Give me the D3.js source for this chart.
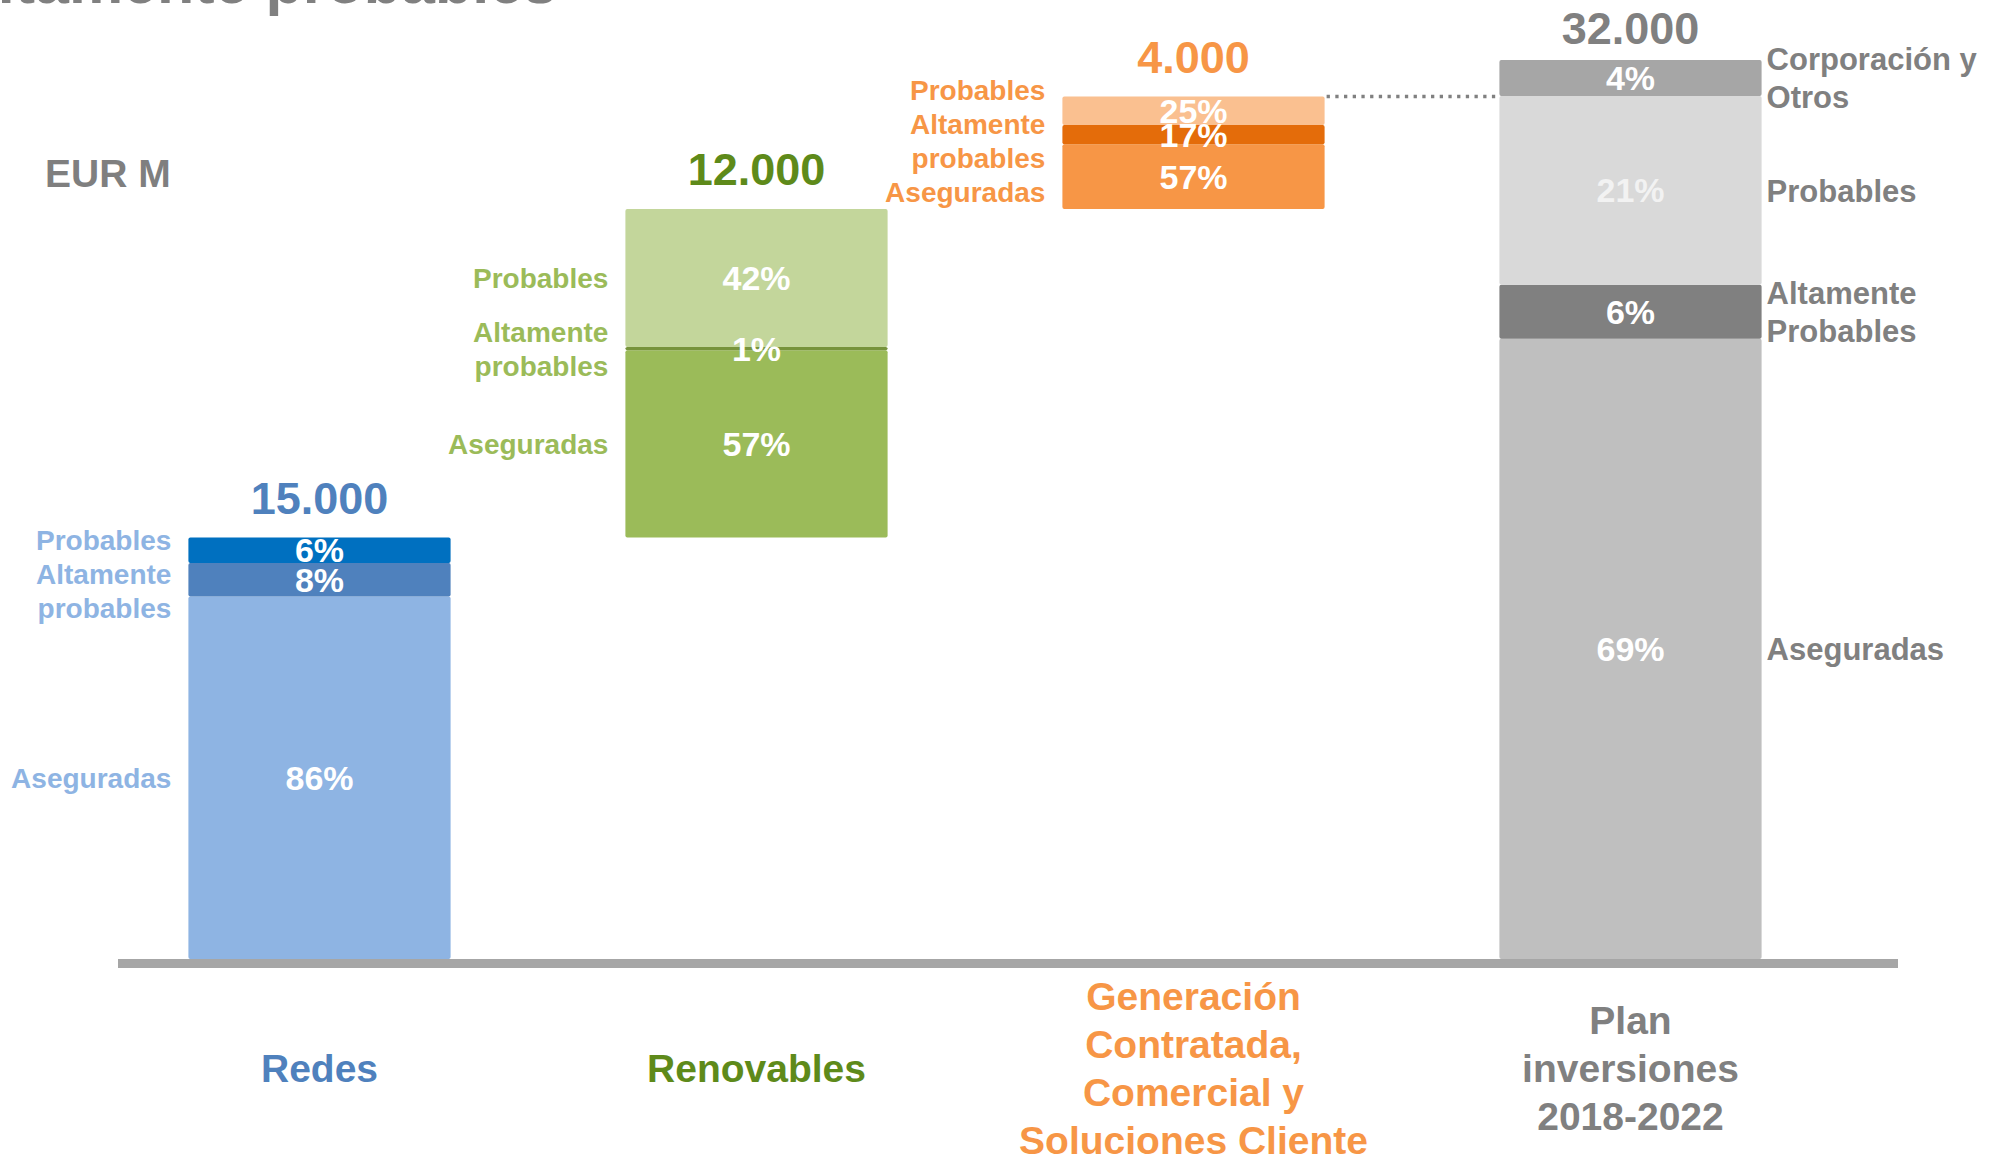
<!DOCTYPE html>
<html lang="es">
<head>
<meta charset="utf-8">
<title>Plan inversiones 2018-2022</title>
<script src="https://cdn.jsdelivr.net/npm/d3@7"></script>
<style>
  body { margin: 0; background: #fff; }
  svg text { font-family: "Liberation Sans", Arial, sans-serif; font-weight: bold; }
</style>
</head>
<body>
<script>
// categories (bottom labels, one entry per line)
var categories = ["Redes", "Renovables", "Generacion", "Plan"];
var categoryLines = [
  ["Redes"],
  ["Renovables"],
  ["Generación", "Contratada,", "Comercial y", "Soluciones Cliente"],
  ["Plan", "inversiones", "2018-2022"]
];
var categoryColors = ["#4F81BD", "#5E8A1A", "#F79646", "#808080"];
var labelColors = ["#8EB4E3", "#9BBB59", "#F79646", "#808080"];

// EUR M (waterfall steps)
var steps = [15000, 11700, 4000];
var corporacion = 1300;
var totalLabels = ["15.000", "12.000", "4.000", "32.000"];

// segments, bottom to top, in %
var segNames = [
  ["Aseguradas", "Altamente\nprobables", "Probables"],
  ["Aseguradas", "Altamente\nprobables", "Probables"],
  ["Aseguradas", "Altamente\nprobables", "Probables"],
  ["Aseguradas", "Altamente\nProbables", "Probables", "Corporación y\nOtros"]
];
var segPct = [
  [86, 8, 6],
  [57, 1, 42],
  [57, 17, 25],
  [69, 6, 21, 4]
];
var segColors = [
  ["#8EB4E3", "#4F81BD", "#0070C0"],
  ["#9BBB59", "#77933C", "#C3D69B"],
  ["#F79646", "#E46C0A", "#FAC090"],
  ["#BFBFBF", "#808080", "#D9D9D9", "#A6A6A6"]
];

var w = 2004, h = 1161;
var total = d3.sum(steps) + corporacion;

var svg = d3.select("body").append("svg")
  .attr("width", w)
  .attr("height", h);

var x = d3.scaleBand()
  .domain(categories)
  .range([101, 1849])
  .paddingInner(0.4)
  .paddingOuter(0.2);

var y = d3.scaleLinear()
  .domain([0, total])
  .range([959, 60]);

var bw = x.bandwidth();

// build segments
var segments = [];
var tops = [];
var base = 0;
categories.forEach(function(cat, i) {
  var value = i < 3 ? steps[i] : total;
  var start = i < 3 ? base : 0;
  var sum = d3.sum(segPct[i]);
  var y0 = start;
  segPct[i].forEach(function(p, j) {
    var v = value * p / sum;
    segments.push({cat: cat, i: i, j: j, y0: y0, y1: y0 + v, pct: p,
                   name: segNames[i][j], color: segColors[i][j]});
    y0 += v;
  });
  tops.push(start + value);
  if (i < 3) base += value;
});

// title (cut by top edge)
svg.append("text")
  .attr("x", 557).attr("y", 3)
  .attr("text-anchor", "end")
  .attr("font-size", 61)
  .attr("fill", "#808080")
  .text("altamente probables");

svg.append("text")
  .attr("x", 45).attr("y", 187)
  .attr("font-size", 39)
  .attr("fill", "#7F7F7F")
  .text("EUR M");

// bars
svg.selectAll("rect.seg")
  .data(segments)
  .enter()
  .append("rect")
  .attr("class", "seg")
  .attr("x", function(d) { return x(d.cat); })
  .attr("y", function(d) { return y(d.y1); })
  .attr("width", bw)
  .attr("height", function(d) { return y(d.y0) - y(d.y1); })
  .attr("rx", 2)
  .attr("fill", function(d) { return d.color; });

// dotted connector
svg.append("line")
  .attr("x1", x(categories[2]) + bw + 2)
  .attr("x2", x(categories[3]) - 2)
  .attr("y1", y(d3.sum(steps)))
  .attr("y2", y(d3.sum(steps)))
  .attr("stroke", "#808080")
  .attr("stroke-width", 3.3)
  .attr("stroke-dasharray", "3.3,5.4");

// axis bar
svg.append("line")
  .attr("x1", 118).attr("x2", 1898)
  .attr("y1", 963.5).attr("y2", 963.5)
  .attr("stroke", "#A6A6A6")
  .attr("stroke-width", 9);

// percent labels
svg.selectAll("text.pct")
  .data(segments)
  .enter()
  .append("text")
  .attr("class", "pct")
  .attr("x", function(d) { return x(d.cat) + bw / 2; })
  .attr("y", function(d) { return (y(d.y0) + y(d.y1)) / 2 + 12; })
  .attr("text-anchor", "middle")
  .attr("font-size", 34)
  .attr("fill", function(d) { return d.color === "#D9D9D9" ? "#F2F2F2" : "#FFFFFF"; })
  .text(function(d) { return d.pct + "%"; });

// total labels
svg.selectAll("text.total")
  .data(categories)
  .enter()
  .append("text")
  .attr("class", "total")
  .attr("x", function(d) { return x(d) + bw / 2; })
  .attr("y", function(d, i) { return Math.max(y(tops[i]) - 24, 44); })
  .attr("text-anchor", "middle")
  .attr("font-size", 45)
  .attr("fill", function(d, i) { return categoryColors[i]; })
  .text(function(d, i) { return totalLabels[i]; });

// side labels, spread apart so blocks don't overlap
categories.forEach(function(cat, i) {
  var right = i === 3;
  var fs = right ? 31 : 28;
  var lh = right ? 38 : 34;
  var blocks = segments.filter(function(s) { return s.i === i; }).map(function(s) {
    var lines = s.name.split("\n");
    return {lines: lines, c: (y(s.y0) + y(s.y1)) / 2, hh: lines.length * lh / 2};
  });
  blocks.sort(function(a, b) { return a.c - b.c; });
  for (var k = 0; k < 60; k++) {
    for (var m = 0; m < blocks.length - 1; m++) {
      var a = blocks[m], b = blocks[m + 1];
      var ov = (a.c + a.hh) - (b.c - b.hh);
      if (ov > 0) { a.c -= ov / 2; b.c += ov / 2; }
    }
  }
  var g = svg.append("g");
  blocks.forEach(function(bk) {
    var t = g.append("text")
      .attr("text-anchor", right ? "start" : "end")
      .attr("font-size", fs)
      .attr("fill", labelColors[i]);
    bk.lines.forEach(function(line, li) {
      t.append("tspan")
        .attr("x", right ? x(cat) + bw + 5 : x(cat) - 17)
        .attr("y", bk.c - bk.hh + lh / 2 + li * lh + fs * 0.36)
        .text(line);
    });
  });
});

// category labels
var catLh = 48, catMid = 1082;
svg.selectAll("text.cat")
  .data(categories)
  .enter()
  .append("text")
  .attr("class", "cat")
  .attr("text-anchor", "middle")
  .attr("font-size", 39)
  .attr("fill", function(d, i) { return categoryColors[i]; })
  .each(function(d, i) {
    var lines = categoryLines[i];
    var t = d3.select(this);
    lines.forEach(function(line, li) {
      t.append("tspan")
        .attr("x", x(d) + bw / 2)
        .attr("y", catMid + (li - (lines.length - 1) / 2) * catLh)
        .text(line);
    });
  });
</script>
</body>
</html>
